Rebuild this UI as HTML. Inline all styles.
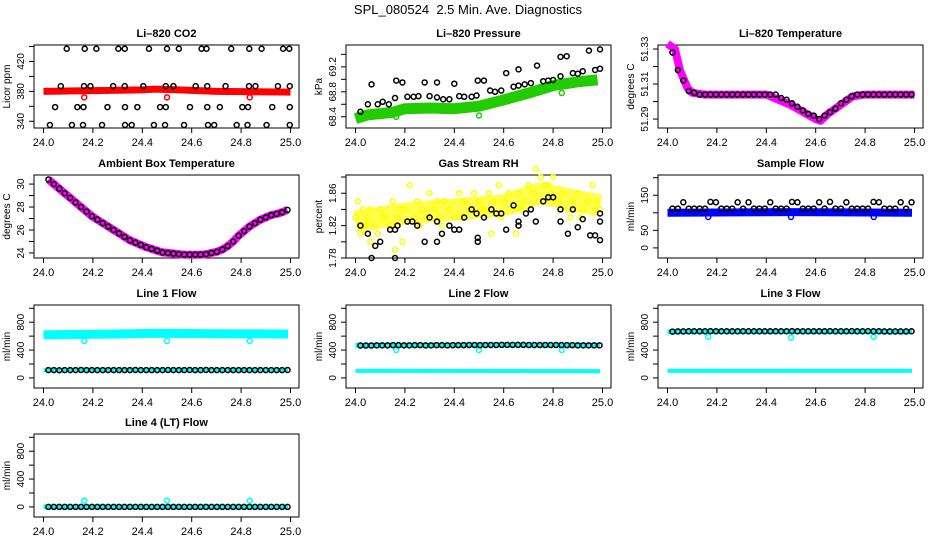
<!DOCTYPE html>
<html><head><meta charset="utf-8"><style>
body{margin:0;background:#fff}
svg{display:block;font-family:"Liberation Sans",sans-serif}
</style></head><body>
<svg id="chart" width="936" height="540" viewBox="0 0 936 540" xmlns="http://www.w3.org/2000/svg">
<text x="468" y="14" font-size="13" text-anchor="middle" style="white-space:pre">SPL_080524  2.5 Min. Ave. Diagnostics</text>
</svg>
<script>
// shared x positions of the sparse black markers
const bx = [24.020,24.042,24.064,24.086,24.108,24.130,24.152,24.174,24.196,24.218,24.240,24.262,24.284,24.306,24.328,24.350,24.372,24.394,24.416,24.438,24.460,24.482,24.504,24.526,24.548,24.570,24.592,24.614,24.636,24.658,24.680,24.702,24.724,24.746,24.768,24.790,24.812,24.834,24.856,24.878,24.900,24.922,24.944,24.966,24.988];
const xTicks = [24.0,24.2,24.4,24.6,24.8,25.0];
const xTickLabels = ["24.0","24.2","24.4","24.6","24.8","25.0"];
const outX = [24.165,24.5,24.835];

// CO2
const co2BandX = [24.0,24.2,24.4,24.45,24.55,24.7,25.0];
const co2BandY = [380,381,382,383,382,380,379];
const co2BlackX = [24.094,24.167,24.214,24.303,24.329,24.427,24.5,24.548,24.64,24.66,24.76,24.833,24.883,24.97,24.995,
 24.07,24.164,24.19,24.282,24.329,24.404,24.495,24.526,24.616,24.663,24.737,24.832,24.858,24.949,24.997,
 24.047,24.137,24.162,24.259,24.33,24.38,24.472,24.495,24.593,24.663,24.714,24.805,24.828,24.926,24.997,
 24.026,24.115,24.16,24.237,24.33,24.357,24.447,24.492,24.569,24.666,24.691,24.782,24.826,24.903,24.997];
const co2BlackY = [437,437,437,437,437,437,437,437,437,437,437,437,437,437,437,
 387,387,387,387,387,387,387,387,387,387,387,387,387,387,387,
 359,359,359,359,359,359,359,359,359,359,359,359,359,359,359,
 335,335,335,335,335,335,335,335,335,335,335,335,335,335,335];
const co2OutY = [372,372,372];

// Pressure
const prBandX = [24.0,24.05,24.15,24.2,24.3,24.4,24.5,24.6,24.7,24.8,24.9,24.98];
const prBandY = [68.37,68.43,68.47,68.53,68.54,68.53,68.57,68.67,68.78,68.9,68.96,68.99];
const prBlackX = [24.02,24.05,24.065,24.09,24.11,24.135,24.16,24.165,24.19,24.21,24.235,24.255,24.28,24.3,24.33,24.33,24.355,24.38,24.4,24.42,24.44,24.47,24.49,24.495,24.52,24.545,24.565,24.59,24.61,24.64,24.66,24.66,24.685,24.71,24.735,24.76,24.78,24.8,24.83,24.83,24.855,24.88,24.9,24.92,24.945,24.97,24.99,24.99];
const prBlackY = [68.48,68.6,68.92,68.6,68.64,68.6,68.7,68.98,68.95,68.72,68.72,68.73,68.95,68.73,68.95,68.71,68.68,68.68,68.93,68.73,68.72,68.72,68.74,68.98,68.98,68.82,68.8,68.82,69.1,68.88,68.9,69.16,68.92,68.94,69.22,68.97,68.98,68.99,69.05,69.36,69.37,69.1,69.09,69.13,69.46,69.15,69.17,69.48];
const prOutY = [68.4,68.42,68.78];

// Li-820 temperature
const tBandX = [24.0,24.03,24.05,24.08,24.1,24.15,24.4,24.45,24.5,24.55,24.6,24.62,24.65,24.7,24.75,24.8,25.0];
const tBandY = [51.333,51.330,51.318,51.308,51.305,51.304,51.304,51.301,51.298,51.294,51.290,51.289,51.293,51.298,51.303,51.304,51.304];
const tBlack = [51.328,51.318,51.312,51.306,51.305,51.304,51.304,51.304,51.304,51.304,51.304,51.304,51.304,51.304,51.304,51.304,51.304,51.304,51.304,51.304,51.302,51.301,51.299,51.297,51.295,51.293,51.292,51.29,51.292,51.294,51.296,51.299,51.301,51.303,51.304,51.304,51.304,51.304,51.304,51.304,51.304,51.304,51.304,51.304,51.304];

// Ambient box temperature
const aBand = [30.4,30.0,29.6,29.2,28.8,28.4,28.0,27.6,27.2,26.9,26.6,26.3,26.0,25.7,25.4,25.1,24.9,24.7,24.5,24.35,24.2,24.05,24.0,23.95,23.9,23.85,23.85,23.85,23.85,23.9,24.0,24.1,24.3,24.6,25.0,25.5,25.9,26.3,26.6,26.9,27.1,27.3,27.4,27.55,27.75];

// Gas stream RH
const rhYx = [24.0,24.01,24.02,24.03,24.04,24.05,24.06,24.08,24.09,24.1,24.12,24.14,24.15,24.17,24.18,24.2,24.22,24.24,24.25,24.27,24.29,24.3,24.32,24.34,24.36,24.38,24.4,24.42,24.44,24.46,24.48,24.5,24.52,24.54,24.56,24.58,24.6,24.62,24.64,24.66,24.68,24.7,24.72,24.73,24.75,24.77,24.79,24.8,24.82,24.84,24.86,24.88,24.9,24.92,24.94,24.96,24.98,24.99,24.03,24.11,24.19,24.26,24.35,24.43,24.51,24.59,24.67,24.74,24.83,24.91,24.97,24.06,24.16,24.33,24.55,24.65,24.78,24.87];
const rhYy = [1.83,1.85,1.81,1.84,1.82,1.83,1.84,1.82,1.81,1.84,1.83,1.82,1.85,1.83,1.84,1.84,1.87,1.83,1.85,1.84,1.83,1.86,1.84,1.83,1.85,1.84,1.83,1.86,1.85,1.84,1.86,1.85,1.84,1.86,1.85,1.87,1.85,1.86,1.84,1.86,1.85,1.87,1.86,1.89,1.88,1.87,1.86,1.88,1.85,1.86,1.84,1.85,1.86,1.84,1.85,1.87,1.85,1.84,1.82,1.83,1.80,1.82,1.82,1.83,1.84,1.83,1.84,1.85,1.84,1.83,1.84,1.80,1.79,1.85,1.81,1.81,1.87,1.83];
const rhBx = [24.02,24.05,24.065,24.08,24.1,24.14,24.16,24.16,24.17,24.21,24.23,24.25,24.28,24.3,24.33,24.33,24.35,24.38,24.4,24.42,24.44,24.47,24.49,24.495,24.495,24.52,24.55,24.57,24.59,24.61,24.64,24.66,24.66,24.69,24.71,24.73,24.76,24.78,24.8,24.83,24.83,24.86,24.88,24.9,24.92,24.95,24.97,24.99,24.99,24.99];
const rhBy = [1.82,1.81,1.78,1.795,1.8,1.815,1.815,1.78,1.82,1.825,1.825,1.82,1.8,1.83,1.8,1.825,1.81,1.82,1.815,1.815,1.83,1.84,1.835,1.8,1.805,1.83,1.84,1.835,1.835,1.815,1.845,1.825,1.82,1.835,1.84,1.825,1.85,1.855,1.855,1.84,1.825,1.81,1.84,1.818,1.828,1.808,1.808,1.835,1.825,1.802];

// Sample flow
const sfBandX = [24.0,24.5,24.99];
const sfBandY = [100,102,100];
const sfBlackY = [112,112,130,112,112,112,112,131,130,112,112,112,130,112,130,112,112,112,130,112,112,112,131,130,112,112,112,130,112,131,112,112,130,112,112,112,112,131,130,112,112,112,130,112,130];
const sfOutY = [88,88,88];

// Line flows
const l1TopX = [24.0,24.3,24.45,24.7,24.99];
const l1TopY = [620,630,640,635,630];
const l1LowX = [24.0,24.99];
const l1LowY = [110,108];
const l1Black = [112,112,110,112,112,112,114,112,112,112,112,112,112,112,112,112,114,112,112,112,112,112,114,112,112,112,114,112,112,114,112,112,112,112,112,112,112,112,112,112,112,112,112,112,114];
const l1OutY = [530,530,530];
const l2TopY = [470,470,475,470];
const l2TopX = [24.0,24.3,24.6,24.99];
const l2LowX = [24.0,24.99];
const l2LowY = [100,98];
const l2Black = [465,465,465,468,468,468,470,470,468,468,470,470,468,468,470,470,468,470,470,470,472,472,470,472,472,472,474,474,474,474,474,472,472,472,472,472,472,472,470,470,468,468,468,468,468];
const l2OutY = [400,400,400];
const l3TopX = [24.0,24.5,24.99];
const l3TopY = [660,665,660];
const l3LowX = [24.0,24.99];
const l3LowY = [100,100];
const l3Black = [665,668,668,670,670,670,670,672,670,670,670,670,670,670,670,670,670,670,670,670,670,670,672,670,670,670,670,670,670,672,670,670,670,672,670,670,672,670,670,668,668,668,668,668,670];
const l3OutY = [590,580,590];
const l4Black = [0,0,0,0,0,0,0,0,0,0,0,0,0,0,0,0,0,0,0,0,0,0,0,0,0,0,0,0,0,0,0,0,0,0,0,0,0,0,0,0,0,0,0,0,0];
const l4BandX = [24.0,24.99];
const l4BandY = [0,0];
const l4OutY = [90,90,90];

const SVGNS = "http://www.w3.org/2000/svg";
const svg = document.getElementById('chart');
function mk(tag, attrs, parent){const e=document.createElementNS(SVGNS,tag);for(const k in attrs)e.setAttribute(k,attrs[k]);(parent||svg).appendChild(e);return e;}

function panel(name, title, ylab, left, top, ymin, ymax, yticks, ylabels){
  const w=265,h=83;
  const g=mk('g',{});
  
  
  const p={g,left,top,w,h,
    sx:x=>left+9.5+(x-24)*247,
    sy:v=>top+h-(v-ymin)/(ymax-ymin)*h};
  const t=mk('text',{x:left+w/2,y:top-8,'font-size':11,'font-weight':'bold','text-anchor':'middle'},g);
  t.textContent=title;
  
  
  const box=mk('rect',{x:left,y:top,width:w,height:h,fill:'none',stroke:'#000','stroke-width':1},g);
  
  
  xTicks.forEach((v,i)=>{
    const X=p.sx(v);
    mk('line',{x1:X,x2:X,y1:top+h,y2:top+h+5,stroke:'#000'},g);
    const tl=mk('text',{x:X,y:top+h+18,'font-size':11,'text-anchor':'middle'},g);
    tl.textContent=xTickLabels[i];
    
    
  });
  yticks.forEach(v=>{
    const Y=p.sy(v);
    mk('line',{x1:left-5,x2:left,y1:Y,y2:Y,stroke:'#000'},g);
  });
  ylabels.forEach(v=>{
    const Y=p.sy(v);
    const tl=mk('text',{x:left-10,y:Y,'font-size':10,'text-anchor':'middle',transform:`rotate(-90 ${left-10} ${Y})`},g);
    tl.textContent=String(v);
    
    
  });
  const yl=mk('text',{x:left-24,y:top+h/2,'font-size':10,'text-anchor':'middle',transform:`rotate(-90 ${left-24} ${top+h/2})`},g);
  yl.textContent=ylab;
  
  
  return p;
}
function band(p,xs,ys,color,width,label){
  const pts=xs.map((x,i)=>p.sx(x).toFixed(1)+','+p.sy(ys[i]).toFixed(1)).join(' ');
  const l=mk('polyline',{points:pts,fill:'none',stroke:color,'stroke-width':width,'stroke-linejoin':'round','stroke-linecap':'butt'},p.g);
  
  
}
function pts(p,xs,ys,color,label){
  xs.forEach((x,i)=>{
    const c=mk('circle',{cx:p.sx(x),cy:p.sy(ys[i]),r:2.5,fill:'none',stroke:color,'stroke-width':1.5},p.g);
    
    
  });
}
const C1=34,C2=346,C3=658, R1=45,R2=175,R3=305,R4=434;
const flowTicks=[0,200,400,600,800,1000], flowLabels=[0,400,800];

let p=panel('co2','Li\u2013820 CO2','Licor ppm',C1,R1,331,442,[340,360,380,400,420,440],[340,380,420]);
band(p,co2BandX,co2BandY,'#ff0000',7,'co2-band');
pts(p,outX,co2OutY,'#ff0000','co2-outlier');
pts(p,co2BlackX,co2BlackY,'#000','co2-point');

p=panel('pressure','Li\u2013820 Pressure','kPa',C2,R1,68.22,69.55,[68.4,68.6,68.8,69.0,69.2,69.4],[68.4,68.8,69.2]);
band(p,prBandX,prBandY,'#22cc00',11,'pressure-band');
pts(p,outX,prOutY,'#22cc00','pressure-outlier');
pts(p,prBlackX,prBlackY,'#000','pressure-point');

p=panel('li820-temp','Li\u2013820 Temperature','degrees C',C3,R1,51.2849,51.3323,[51.29,51.30,51.31,51.32,51.33],[51.29,51.31,51.33]);
band(p,tBandX,tBandY,'#ff00ff',8,'li820-temp-band');
pts(p,bx,tBlack,'#000','li820-temp-point');

p=panel('ambient-temp','Ambient Box Temperature','degrees C',C1,R2,23.56,30.79,[24,25,26,27,28,29,30],[24,26,28,30]);
band(p,bx,aBand,'#ff00ff',8,'ambient-temp-band');
pts(p,bx,aBand,'#000','ambient-temp-point');

p=panel('rh','Gas Stream RH','percent',C2,R2,1.78,1.8825,[1.78,1.80,1.82,1.84,1.86,1.88],[1.78,1.82,1.86]);
band(p,[24.0,24.2,24.4,24.6,24.75,24.9,24.99],[1.825,1.835,1.84,1.845,1.86,1.85,1.845],'rgba(255,255,0,0.7)',22,'rh-cloud');
pts(p,rhYx,rhYy,'#ffff00','rh-yellow-point');
pts(p,rhBx,rhBy,'#000','rh-point');

p=panel('sample-flow','Sample Flow','ml/min',C3,R2,-28.8,207.7,[0,50,100,150,200],[0,50,150]);
band(p,sfBandX,sfBandY,'#0000ff',8,'sample-flow-band');
pts(p,outX,sfOutY,'#0000ff','sample-flow-outlier');
pts(p,bx,sfBlackY,'#000','sample-flow-point');

p=panel('line1','Line 1 Flow','ml/min',C1,R3,-145,1047,flowTicks,flowLabels);
band(p,l1TopX,l1TopY,'#00ffff',9,'line1-band');
band(p,l1LowX,l1LowY,'#00ffff',4,'line1-low-band');
pts(p,outX,l1OutY,'#00ffff','line1-outlier');
pts(p,bx,l1Black,'#000','line1-point');

p=panel('line2','Line 2 Flow','ml/min',C2,R3,-145,1047,flowTicks,flowLabels);
band(p,l2TopX,l2TopY,'#00ffff',5,'line2-band');
band(p,l2LowX,l2LowY,'#00ffff',4,'line2-low-band');
pts(p,outX,l2OutY,'#00ffff','line2-outlier');
pts(p,bx,l2Black,'#000','line2-point');

p=panel('line3','Line 3 Flow','ml/min',C3,R3,-145,1047,flowTicks,flowLabels);
band(p,l3TopX,l3TopY,'#00ffff',5,'line3-band');
band(p,l3LowX,l3LowY,'#00ffff',4,'line3-low-band');
pts(p,outX,l3OutY,'#00ffff','line3-outlier');
pts(p,bx,l3Black,'#000','line3-point');

p=panel('line4','Line 4 (LT) Flow','ml/min',C1,R4,-145,1047,flowTicks,flowLabels);
band(p,l4BandX,l4BandY,'#00ffff',5,'line4-band');
pts(p,outX,l4OutY,'#00ffff','line4-outlier');
pts(p,bx,l4Black,'#000','line4-point');
</script>
</body></html>
